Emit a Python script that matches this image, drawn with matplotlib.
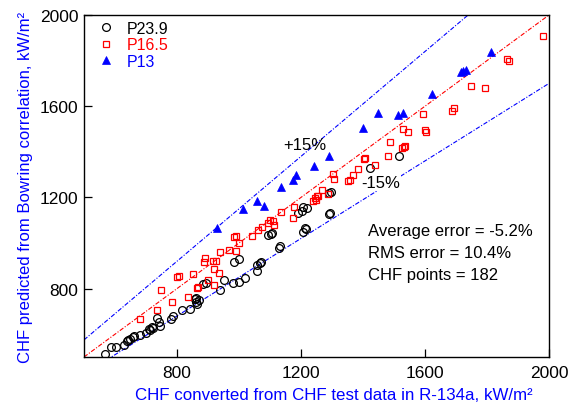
import numpy as np
import matplotlib
matplotlib.use("Agg")
import matplotlib.pyplot as plt

plt.rcParams['font.family'] = ['Liberation Sans', 'DejaVu Sans']

# P23.9 data (measured, predicted)
p239_x = [568, 587, 603, 630, 643, 648, 657, 660, 681, 700, 711, 718, 722, 735, 742, 745,
          781, 786, 815, 842, 858, 861, 866, 870, 885, 893, 939, 953, 982, 1001, 1019,
          985, 1001, 1057, 1057, 1068, 1072, 1130, 1133, 1095, 1102, 1107, 1205, 1216,
          1191, 1202, 1218, 1291, 1294, 1291, 1297, 1208, 1213, 1423, 1517, 862, 640, 712]
p239_y = [514, 544, 544, 554, 573, 580, 586, 590, 595, 606, 624, 631, 628, 671, 653, 636,
          668, 680, 707, 712, 755, 741, 734, 748, 821, 824, 792, 836, 824, 831, 846,
          916, 928, 879, 904, 913, 918, 978, 985, 1033, 1040, 1044, 1050, 1062,
          1132, 1142, 1153, 1128, 1132, 1220, 1223, 1157, 1065, 1328, 1380, 760, 570, 620]

# P16.5 data
p165_x = [681, 735, 748, 783, 801, 805, 853, 835, 864, 868, 890, 887, 915, 925, 919, 935,
          919, 901, 939, 969, 990, 1001, 985, 990, 1041, 1060, 1073, 1093, 1100, 1109,
          1114, 1136, 1175, 1178, 1240, 1245, 1251, 1255, 1269, 1288, 1248, 1304, 1306,
          1351, 1358, 1367, 1385, 1404, 1408, 1439, 1482, 1487, 1525, 1535, 1530, 1546,
          1600, 1603, 1595, 1533, 1688, 1694, 1747, 1794, 1864, 1872, 1980]
p165_y = [666, 706, 795, 741, 853, 855, 866, 761, 802, 806, 935, 917, 919, 922, 887, 868,
          814, 836, 960, 971, 967, 998, 1028, 1032, 1030, 1058, 1072, 1088, 1101, 1096,
          1081, 1135, 1110, 1157, 1186, 1197, 1205, 1208, 1234, 1215, 1190, 1304, 1281,
          1274, 1278, 1299, 1325, 1369, 1372, 1340, 1383, 1444, 1416, 1424, 1500, 1486,
          1496, 1489, 1566, 1423, 1580, 1591, 1690, 1678, 1807, 1800, 1909]

# P13 data
p13_x = [928, 1012, 1057, 1082, 1136, 1173, 1184, 1243, 1291, 1401, 1449, 1512, 1528,
         1624, 1715, 1724, 1731, 1812]
p13_y = [1066, 1150, 1183, 1164, 1245, 1277, 1299, 1339, 1383, 1503, 1569, 1563, 1569,
         1654, 1749, 1756, 1760, 1836]

stats_lines = ["Average error = -5.2%", "RMS error = 10.4%", "CHF points = 182"]

fig = plt.figure(figsize=(5.79, 4.10), dpi=100)
ax = fig.add_axes([84 / 579, 1 - 358 / 410, 465 / 579, 342 / 410])

xmin, xmax = 500, 2000
ax.set_xlim(xmin, xmax)
ax.set_ylim(500, 2000)

# reference lines: 1:1 and +/-15 %
xs = np.array([xmin, xmax])
dashdot = (0, (4, 1.5, 1, 1.5))
ax.plot(xs, xs, color='red', lw=0.8, ls=dashdot, zorder=1)
ax.plot(xs, 1.15 * xs, color='blue', lw=0.8, ls=dashdot, zorder=1)
ax.plot(xs, 0.85 * xs, color='blue', lw=0.8, ls=dashdot, zorder=1)

ax.plot(p239_x, p239_y, ls='none', marker='o', ms=5.6, mfc='none', mec='black',
        mew=0.9, label='P23.9', zorder=3)
ax.plot(p165_x, p165_y, ls='none', marker='s', ms=4.5, mfc='none', mec='red',
        mew=0.9, label='P16.5', zorder=3)
ax.plot(p13_x, p13_y, ls='none', marker='^', ms=5.6, mfc='blue', mec='blue',
        mew=0.5, label='P13', zorder=3)

leg = ax.legend(loc='upper left', frameon=False, fontsize=11.5, handletextpad=0.7,
                borderaxespad=0.0, borderpad=0.0, labelspacing=0.1,
                handlelength=1.2, bbox_to_anchor=(0.026, 0.983))
for txt, col in zip(leg.get_texts(), ['black', 'red', 'blue']):
    txt.set_color(col)

ax.text(1213, 1434, '+15%', fontsize=12, ha='center', va='center')
ax.text(1458, 1264, '-15%', fontsize=12, ha='center', va='center', zorder=4,
        bbox=dict(boxstyle='square,pad=0.05', fc='white', ec='none'))

for i, s in enumerate(stats_lines):
    ax.text(1416, 1053 - i * 96, s, fontsize=12, ha='left', va='center')

ax.set_xticks([800, 1200, 1600, 2000])
ax.set_yticks([800, 1200, 1600, 2000])
ax.tick_params(direction='in', length=6, width=0.9, labelsize=12.5, pad=6)
ax.tick_params(axis='y', pad=4)
for sp in ax.spines.values():
    sp.set_linewidth(1.0)

ax.set_xlabel('CHF converted from CHF test data in R-134a, kW/m²', color='blue',
              fontsize=12.2)
ax.xaxis.set_label_coords(0.538, -0.088)
ax.set_ylabel('CHF predicted from Bowring correlation, kW/m²', color='blue',
              fontsize=12, labelpad=5)

fig.savefig('out.png', dpi=100)
